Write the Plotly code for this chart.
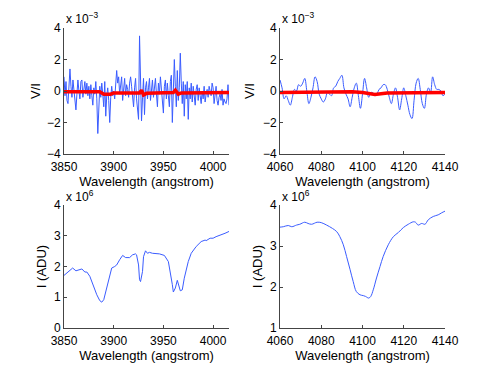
import plotly.graph_objects as go

# V/I around the 3850-4016 A window (units of 1e-3)
wl_a = list(range(3850, 4017))
vi_a = [0.9, -0.3, 0.6, -0.6, -0.8, 0.2, 1.4, 0.3, -0.4, 0.7,
        0.1, -0.6, -1.2, -0.2, 0.7, 0.0, -0.5, 0.6, 0.7, -0.4,
        0.3, 0.6, -0.2, 0.5, -0.3, 0.3, -0.5, 0.4, -0.3, -0.9,
        0.2, -0.2, 0.6, -0.5, -2.7, -0.6, 0.3, -0.4, 0.5, -0.2,
        -1.0, 0.6, -1.6, -0.3, 0.2, -0.6, -2.0, -0.4, 0.3, -0.3,
        0.0, -0.5, 0.4, 1.3, 0.5, 0.9, -0.2, 0.3, 0.9, -0.6,
        0.2, 0.8, -0.3, 0.4, 0.1, -0.4, 0.5, 0.9, 0.3, -0.4,
        -1.0, 0.2, 0.8, -0.5, -1.1, -1.8, 3.5, 0.6, -1.9, -0.4,
        0.8, -1.5, 0.2, 0.6, -0.5, 0.2, 0.8, -0.6, 0.2, 0.7,
        -0.4, 0.3, 0.8, -0.2, -1.0, 0.5, -0.2, 0.9, 0.1, -0.6,
        -1.4, 0.3, 0.7, -0.5, 0.5, -0.3, -1.0, 0.6, 1.0, -2.0,
        0.4, 2.0, 0.3, -1.0, 1.3, -0.6, 0.2, 2.4, 0.5, -0.8,
        0.6, -1.6, 0.4, -0.5, 0.6, -1.8, 0.2, -0.5, 0.5, -0.7,
        0.3, -0.4, -0.9, 0.1, 0.4, -0.6, 0.2, -0.3, -0.8, 0.0,
        -0.5, 0.3, -0.7, -0.2, 0.1, -0.4, 0.3, 0.0, -0.3, 0.5,
        0.2, -0.8, -0.3, 0.3, -0.6, -0.9, -0.4, -0.2, -0.6, 0.1,
        -0.9, -0.5, -0.7, -0.8, -0.5, 0.4, -0.9]
fit_wl_a = [3850, 3886, 3890, 3897, 3900, 3926, 3928, 3930, 3933, 3960, 3962, 3965, 3968, 4016]
fit_vi_a = [-0.05, -0.05, -0.2, -0.2, -0.12, -0.12, 0.05, -0.25, -0.15, -0.1, 0.05, -0.2, -0.12, -0.1]

# V/I around the 4060-4140 A window (units of 1e-3)
wl_b = list(range(4060, 4141))
vi_b = [0.7, 0.2, -0.5, -0.3, -0.6, -0.9, -0.4, 0.1, 0.0, 0.4,
        0.3, 0.5, 0.8, 0.0, -0.8, -0.4, 0.2, 0.9, 0.6, -0.2,
        -0.5, -0.7, -0.5, -0.1, -0.2, -0.3, 0.2, 0.3, 0.6, 0.8,
        1.0, 0.2, -0.2, -0.5, -1.0, -0.4, 0.2, 0.5, -0.3, -1.1,
        -0.2, 0.8, 0.2, -0.4, -0.1, -0.1, -0.3, -0.2, 0.1, 0.2,
        0.4, 0.4, 0.1, -0.4, -0.8, -0.2, 0.2, -0.4, -1.2, -0.5,
        0.2, -0.3, -0.9, -1.5, -1.75, -0.6, 0.5, 0.8, 0.1, -0.8,
        -1.1, -0.2, 0.2, -0.1, 0.9, 0.4, 0.1, 0.1, 0.0, -0.3,
        -0.2]
fit_wl_b = [4060, 4095, 4100, 4106, 4112, 4140]
fit_vi_b = [-0.1, -0.05, -0.1, -0.22, -0.12, -0.1]

# intensity (units of 1e6 ADU)
int_wl_a = [3850, 3852.7, 3858.7, 3862, 3866, 3868, 3871, 3873, 3876, 3879,
            3883, 3886, 3888, 3890, 3893, 3896, 3898, 3901, 3903, 3906,
            3909, 3912, 3916, 3919, 3922, 3923, 3925, 3926, 3927, 3929,
            3930, 3932, 3934, 3936, 3939, 3946, 3951, 3955, 3957, 3959,
            3960, 3962, 3964, 3965, 3967, 3969, 3971, 3975, 3978, 3983,
            3988, 3992, 3993, 3997, 4000, 4003, 4006, 4008, 4012, 4016]
int_a = [1.71, 1.78, 1.95, 1.86, 1.89, 1.92, 1.82, 1.82, 1.68, 1.40,
         1.08, 0.89, 0.84, 0.92, 1.30, 1.73, 1.95, 2.00, 2.05, 2.22,
         2.36, 2.29, 2.29, 2.38, 2.41, 2.38, 2.05, 1.57, 1.51, 1.84,
         2.32, 2.51, 2.43, 2.46, 2.43, 2.41, 2.36, 2.16, 1.84, 1.41,
         1.17, 1.30, 1.55, 1.41, 1.21, 1.24, 1.62, 2.16, 2.43, 2.65,
         2.81, 2.86, 2.84, 2.92, 2.92, 2.97, 3.00, 3.03, 3.08, 3.14]

int_wl_b = [4060, 4061.6, 4064, 4065.7, 4068, 4069.6, 4072, 4073.6, 4075.3, 4078,
            4080, 4082.6, 4085.4, 4087.5, 4089, 4090.7, 4092.3, 4094, 4095.5, 4097,
            4098.8, 4100.4, 4101.5, 4103, 4104, 4105.2, 4106.8, 4108.5, 4110, 4112.5,
            4115, 4117.4, 4119.8, 4122.2, 4124.6, 4125.7, 4127, 4128.7, 4130.3, 4131.9,
            4134.3, 4136.7, 4138.4, 4140]
int_b = [3.46, 3.47, 3.50, 3.47, 3.51, 3.53, 3.58, 3.55, 3.53, 3.58,
         3.57, 3.51, 3.43, 3.35, 3.23, 3.03, 2.74, 2.42, 2.13, 1.89,
         1.81, 1.79, 1.77, 1.73, 1.77, 1.93, 2.22, 2.50, 2.74, 3.03,
         3.23, 3.33, 3.45, 3.53, 3.59, 3.58, 3.51, 3.55, 3.53, 3.64,
         3.72, 3.76, 3.81, 3.85]

W, H = 491, 369
OFF = 8  # page body margin
blue = '#3a5cff'
red = '#ff0000'
fam = 'Liberation Sans, Arial, sans-serif'
tick_font = dict(family=fam, size=12, color='black')
title_font = dict(family=fam, size=13, color='black')


def px_x(a, b):
    return [(a - OFF) / W, (b - OFF) / W]


def px_y(top, bottom):
    return [1 - (bottom - OFF) / H, 1 - (top - OFF) / H]


fig = go.Figure()
fig.add_trace(go.Scatter(x=wl_a, y=vi_a, mode='lines', line=dict(color=blue, width=1),
                         xaxis='x', yaxis='y'))
fig.add_trace(go.Scatter(x=fit_wl_a, y=fit_vi_a, mode='lines', line=dict(color=red, width=3.5),
                         xaxis='x', yaxis='y'))
fig.add_trace(go.Scatter(x=wl_b, y=vi_b, mode='lines', line=dict(color=blue, width=1, shape='spline'),
                         xaxis='x2', yaxis='y2'))
fig.add_trace(go.Scatter(x=fit_wl_b, y=fit_vi_b, mode='lines', line=dict(color=red, width=3.5),
                         xaxis='x2', yaxis='y2'))
fig.add_trace(go.Scatter(x=int_wl_a, y=int_a, mode='lines', line=dict(color=blue, width=1),
                         xaxis='x3', yaxis='y3'))
fig.add_trace(go.Scatter(x=int_wl_b, y=int_b, mode='lines', line=dict(color=blue, width=1, shape='spline'),
                         xaxis='x4', yaxis='y4'))

axis_style = dict(showline=True, linecolor='#444', linewidth=1, ticks='inside', ticklen=3,
                  tickcolor='#444', showgrid=False, zeroline=False, mirror=False,
                  automargin=False, tickfont=tick_font, title_font=title_font)
x_style = dict(axis_style, ticklabelstandoff=2,
               title=dict(text='Wavelength (angstrom)', standoff=1))

left = px_x(64, 229)
right = px_x(280, 445)
top = px_y(28, 154)
bottom = px_y(205, 328)

fig.update_layout(
    width=W, height=H, margin=dict(l=0, r=0, t=0, b=0, pad=0),
    paper_bgcolor='white', plot_bgcolor='white', showlegend=False,
    xaxis=dict(x_style, domain=left, anchor='y', range=[3850, 4016],
               tickvals=[3850, 3900, 3950, 4000]),
    yaxis=dict(axis_style, domain=top, anchor='x', range=[-4, 4], tickvals=[-4, -2, 0, 2, 4],
               title=dict(text='V/I', standoff=3)),
    xaxis2=dict(x_style, domain=right, anchor='y2', range=[4060, 4140],
                tickvals=[4060, 4080, 4100, 4120, 4140]),
    yaxis2=dict(axis_style, domain=top, anchor='x2', range=[-4, 4], tickvals=[-4, -2, 0, 2, 4],
                title=dict(text='V/I', standoff=5)),
    xaxis3=dict(x_style, domain=left, anchor='y3', range=[3850, 4016],
                tickvals=[3850, 3900, 3950, 4000]),
    yaxis3=dict(axis_style, domain=bottom, anchor='x3', range=[0, 4], tickvals=[0, 1, 2, 3, 4],
                title=dict(text='I (ADU)', standoff=4)),
    xaxis4=dict(x_style, domain=right, anchor='y4', range=[4060, 4140],
                tickvals=[4060, 4080, 4100, 4120, 4140]),
    yaxis4=dict(axis_style, domain=bottom, anchor='x4', range=[1, 4], tickvals=[1, 2, 3, 4],
                title=dict(text='I (ADU)', standoff=4)),
)

for xl, yt, txt in [(64, 18, 'x 10<sup>−3</sup>'), (280, 18, 'x 10<sup>−3</sup>'),
                    (64, 196, 'x 10<sup>6</sup>'), (280, 196, 'x 10<sup>6</sup>')]:
    fig.add_annotation(x=(xl - OFF) / W, y=1 - (yt - OFF) / H, xref='paper', yref='paper', text=txt,
                       showarrow=False, xanchor='left', yanchor='middle', font=tick_font)

fig.write_html("out.html")
